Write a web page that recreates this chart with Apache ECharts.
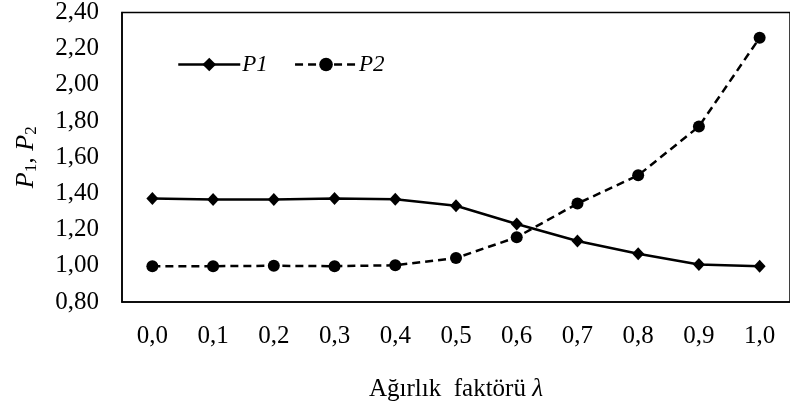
<!DOCTYPE html>
<html>
<head>
<meta charset="utf-8">
<script src="https://cdn.jsdelivr.net/npm/echarts@6/dist/echarts.min.js"></script>
<style>html,body{margin:0;padding:0;background:#fff}#c{width:790px;height:409px}</style>
</head>
<body>
<div id="c"></div>
<script>
var categories = ['0,0','0,1','0,2','0,3','0,4','0,5','0,6','0,7','0,8','0,9','1,0'];
var p1 = [1.372, 1.367, 1.367, 1.372, 1.368, 1.332, 1.231, 1.137, 1.067, 1.007, 0.998];
var p2 = [0.998, 0.998, 1.000, 0.998, 1.003, 1.043, 1.158, 1.344, 1.500, 1.770, 2.260];
var yTicks = {min: 0.8, max: 2.4, interval: 0.2};

var FONT = '"Liberation Serif", "Times New Roman", serif';
var chart = echarts.init(document.getElementById('c'), null, {renderer: 'canvas'});
chart.setOption({
  animation: false,
  backgroundColor: '#fff',
  grid: {left: 122, top: 10, bottom: 107, right: -10, show: true, borderColor: '#000', borderWidth: 1.5, backgroundColor: 'transparent'},
  legend: {
    left: 172, top: 48, itemWidth: 62, itemHeight: 17, itemGap: 26,
    lineStyle: {width: 2.5},
    textStyle: {fontFamily: FONT, fontStyle: 'italic', fontSize: 23, color: '#000', padding: [0, 0, 0, -3]},
    data: ['P1', 'P2']
  },
  xAxis: {
    type: 'category', data: categories, boundaryGap: true,
    axisLine: {show: true, lineStyle: {color: '#000', width: 1.5}},
    axisTick: {show: false},
    axisLabel: {fontFamily: FONT, fontSize: 25, color: '#000', margin: 22},
    name: 'Ağırlık  faktörü {l|λ}', nameLocation: 'middle', nameGap: 75,
    nameTextStyle: {fontFamily: FONT, fontSize: 25, color: '#000',
      rich: {l: {fontFamily: FONT, fontSize: 25, fontStyle: 'italic', color: '#000'}}}
  },
  yAxis: {
    type: 'value', min: yTicks.min, max: yTicks.max, interval: yTicks.interval,
    splitLine: {show: false},
    axisLine: {show: true, lineStyle: {color: '#000', width: 1.5}},
    axisTick: {show: false},
    axisLabel: {fontFamily: FONT, fontSize: 25, color: '#000', margin: 23,
      formatter: function (v) { return v.toFixed(2).replace('.', ','); }},
    name: '{p|P}{s|1}{p|, P}{s|2}', nameLocation: 'middle', nameGap: 82, nameRotate: 90,
    nameTextStyle: {fontFamily: FONT, color: '#000',
      rich: {
        p: {fontFamily: FONT, fontSize: 26, fontStyle: 'italic', color: '#000'},
        s: {fontFamily: FONT, fontSize: 17, color: '#000', padding: [11, 0, 0, 0]}
      }}
  },
  series: [
    {name: 'P1', type: 'line', data: p1, symbol: 'diamond', symbolSize: [12, 13],
      lineStyle: {color: '#000', width: 2.5}, itemStyle: {color: '#000'}},
    {name: 'P2', type: 'line', data: p2, symbol: 'circle', symbolSize: 12,
      lineStyle: {color: '#000', width: 2.5, type: [8, 5]}, itemStyle: {color: '#000'}}
  ]
});
</script>
</body>
</html>
